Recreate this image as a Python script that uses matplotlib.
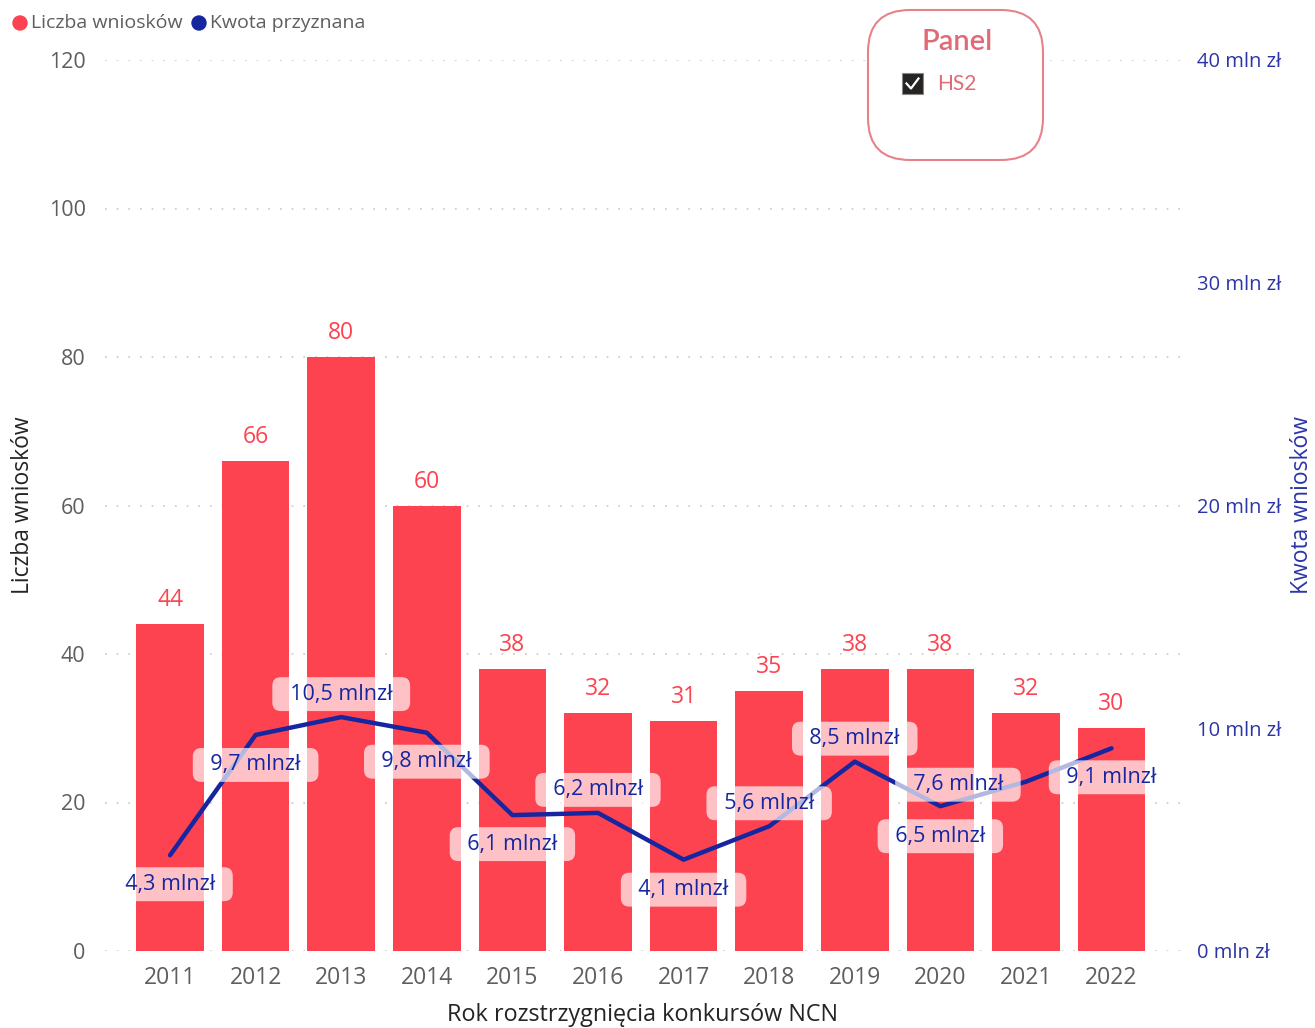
import matplotlib
matplotlib.use("Agg")
import matplotlib.pyplot as plt
from matplotlib.patches import FancyBboxPatch, Rectangle, Circle
import numpy as np

# ---------------------------
# DANE
# ---------------------------
lata = ["2011", "2012", "2013", "2014", "2015", "2016",
        "2017", "2018", "2019", "2020", "2021", "2022"]
liczba_wnioskow = [44, 66, 80, 60, 38, 32, 31, 35, 38, 38, 32, 30]
kwota_mln = [4.3, 9.7, 10.5, 9.8, 6.1, 6.2, 4.1, 5.6, 8.5, 6.5, 7.6, 9.1]

# przesuniecia etykiet linii (piksele)
przes_etykiet = [(0, -29), (0, -30), (0, 23), (0, -29), (0, -29), (0, 23),
                 (0, -30), (0, 23), (0, 23), (0, -30), (-68, -3), (0, -29)]

CZERWONY = "#FD434F"
GRANAT = "#1626A0"
NIEBIESKI = "#2B35A8"
SZARY = "#605E5C"

plt.rcParams['font.family'] = ['Open Sans', 'DejaVu Sans']

W, H = 1315, 1028
fig = plt.figure(figsize=(W / 100, H / 100), dpi=100)

x0, x1, y0, y1 = 105, 1180, 60, 951
ax = fig.add_axes([x0 / W, 1 - y1 / H, (x1 - x0) / W, (y1 - y0) / H])
ax2 = ax.twinx()

x = np.arange(len(lata))

# ---------------------------
# SLUPKI
# ---------------------------
ax.bar(x, liczba_wnioskow, width=0.79, color=CZERWONY, zorder=2)
for xi, v in zip(x, liczba_wnioskow):
    ax.annotate(str(v), (xi, v), xytext=(0, 24), textcoords="offset pixels",
                ha="center", va="center", color=CZERWONY, fontsize=16.5)

ax.set_ylim(0, 120)
ax.set_yticks(range(0, 121, 20))
ax.set_xlim(-0.76, 11.8)
ax.set_xticks(x)
ax.set_xticklabels(lata)
ax.grid(axis="y", color="#c8c8c8", linestyle=(0, (1, 6)), linewidth=1.2, zorder=0)
ax.set_axisbelow(True)
ax.tick_params(axis="both", length=0, labelsize=15.5, labelcolor=SZARY)
ax.tick_params(axis="x", pad=11, labelsize=16.5)
ax.tick_params(axis="y", pad=14)
ax.set_xlabel("Rok rozstrzygnięcia konkursów NCN", fontsize=16.8, color="#252423", labelpad=9)
ax.set_ylabel("Liczba wniosków", fontsize=16.5, color="#252423")
ax.yaxis.set_label_coords((35 - x0) / (x1 - x0), 0.5)

# ---------------------------
# LINIA
# ---------------------------
ax2.plot(x, kwota_mln, color=GRANAT, linewidth=3.2, zorder=3, solid_capstyle="round")
for xi, v, (dx, dy) in zip(x, kwota_mln, przes_etykiet):
    tekst = "  " + f"{v:.1f}".replace(".", ",") + " mlnzł  "
    ax2.annotate(tekst, (xi, v), xytext=(dx, dy), textcoords="offset pixels",
                 ha="center", va="center", color=GRANAT, fontsize=15.5, zorder=5,
                 bbox=dict(boxstyle="round,pad=0.3,rounding_size=0.4",
                           fc="white", ec="none", alpha=0.68))

ax2.set_ylim(0, 40)
ax2.set_yticks([0, 10, 20, 30, 40])
ax2.set_yticklabels(["0 mln zł", "10 mln zł", "20 mln zł", "30 mln zł", "40 mln zł"])
ax2.tick_params(axis="y", length=0, labelsize=14.5, labelcolor=NIEBIESKI, pad=12)
ax2.set_ylabel("Kwota wniosków", fontsize=16.5, color=NIEBIESKI, rotation=90)
ax2.yaxis.set_label_coords((1290 - x0) / (x1 - x0), 0.5)

for a in (ax, ax2):
    for s in a.spines.values():
        s.set_visible(False)

# ---------------------------
# LEGENDA I PANEL (piksele)
# ---------------------------
nak = fig.add_axes([0, 0, 1, 1])
nak.set_xlim(0, W)
nak.set_ylim(H, 0)
nak.axis("off")

nak.add_patch(Circle((20, 23), 7, color=CZERWONY))
nak.text(31, 23, "Liczba wniosków", fontsize=14, color=SZARY, va="center", ha="left")
nak.add_patch(Circle((199, 23), 7, color=GRANAT))
nak.text(210, 23, "Kwota przyznana", fontsize=14, color=SZARY, va="center", ha="left")

nak.add_patch(FancyBboxPatch((868, 10), 175, 150,
                             boxstyle="round,pad=0,rounding_size=42",
                             fc="white", ec="#E8828A", lw=1.5))
nak.text(957, 42, "Panel", fontsize=21, color="#E06A75", ha="center", va="center",
         family=["Lato", "DejaVu Sans"], fontweight="semibold")
nak.add_patch(Rectangle((902, 73), 21, 21, fc="#252423", ec="#888888", lw=0.8))
nak.plot([906.5, 911, 918.5], [83.5, 88.5, 78.5], color="white", lw=1.6)
nak.text(937, 84, "HS2", fontsize=15, color="#E06A75", ha="left", va="center",
         family=["Lato", "DejaVu Sans"])

fig.savefig("out.png", dpi=100)
